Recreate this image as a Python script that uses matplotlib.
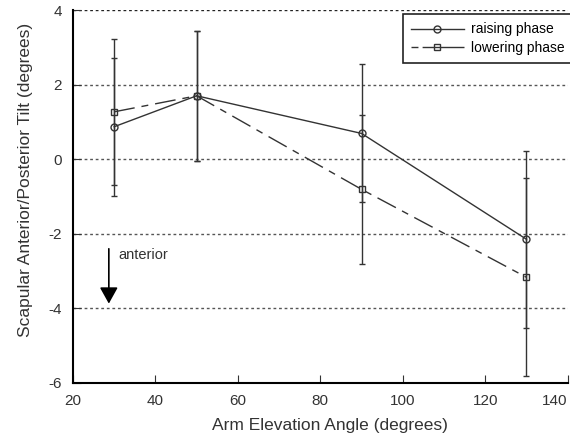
import matplotlib.pyplot as plt
from matplotlib.lines import Line2D

plt.rcParams['font.family'] = ['Liberation Sans', 'DejaVu Sans']
plt.rcParams['axes.unicode_minus'] = False

# Data
angle = [30, 50, 90, 130]
raising = [0.87, 1.70, 0.69, -2.15]
raising_sd = [1.85, 1.75, 1.85, 2.37]
lowering = [1.27, 1.70, -0.81, -3.17]
lowering_sd = [1.95, 1.75, 2.00, 2.66]

INK = '#333333'
DASH = (15, 5, 5, 5)

fig = plt.figure(figsize=(5.7, 4.37), dpi=100)
ax = fig.add_axes([0.128, 0.124, 0.868, 0.853])

# Horizontal dotted grid
for yv in [4, 2, 0, -2, -4]:
    ax.axhline(yv, color='#555555' if yv != 4 else '#222222', linestyle=(0, (2, 2)),
               linewidth=1.0, zorder=0)

# Raising phase
ax.errorbar(angle, raising, yerr=raising_sd, color=INK, linewidth=1.0,
            marker='o', markersize=5, markerfacecolor='none', markeredgecolor=INK,
            capsize=2.5, elinewidth=1.0, capthick=1.0)

# Lowering phase
ax.errorbar(angle, lowering, yerr=lowering_sd, color=INK, linewidth=1.0,
            linestyle=(0, DASH),
            marker='s', markersize=5, markerfacecolor='none', markeredgecolor=INK,
            capsize=2.5, elinewidth=1.0, capthick=1.0)

# Anterior arrow
ax.annotate('', xy=(28.7, -3.95), xytext=(28.7, -2.33),
            arrowprops=dict(arrowstyle='-|>,head_length=0.45,head_width=0.25',
                            color='black', lw=1.2, mutation_scale=22))
ax.text(30.9, -2.57, 'anterior', fontsize=10.5, color=INK, va='center')

ax.set_xlim(20, 140)
ax.set_ylim(-6, 4)
ax.set_xticks([20, 40, 60, 80, 100, 120, 140])
ax.set_yticks([-6, -4, -2, 0, 2, 4])
ax.tick_params(direction='in', length=6, labelsize=11, colors=INK, pad=8)
ax.get_xticklabels()[-1].set_horizontalalignment('right')

ax.spines['top'].set_visible(False)
ax.spines['right'].set_visible(False)
ax.spines['left'].set_linewidth(1.5)
ax.spines['bottom'].set_linewidth(1.5)

ax.set_xlabel('Arm Elevation Angle (degrees)', fontsize=12.5, color=INK)
ax.set_ylabel('Scapular Anterior/Posterior Tilt (degrees)', fontsize=12.5, color=INK)
ax.xaxis.set_label_coords(0.52, -0.095)
ax.yaxis.set_label_coords(-0.08, 0.543)

handles = [
    Line2D([], [], color=INK, linewidth=1.0, marker='o', markersize=5,
           markerfacecolor='none', markeredgecolor=INK),
    Line2D([], [], color=INK, linewidth=1.0, dashes=(5, 3, 40, 2), marker='s', markersize=5,
           markerfacecolor='none', markeredgecolor=INK),
]
leg = ax.legend(handles, ['raising phase', 'lowering phase'], loc='upper right',
                bbox_to_anchor=(1.01, 0.989), borderaxespad=0, fontsize=10, frameon=True,
                fancybox=False, handlelength=3.8, handletextpad=0.5, borderpad=0.6,
                labelspacing=0.3)
leg.get_frame().set_edgecolor('#222222')
leg.get_frame().set_linewidth(1.2)
leg.get_frame().set_alpha(1)

fig.savefig('out.png', dpi=100)
